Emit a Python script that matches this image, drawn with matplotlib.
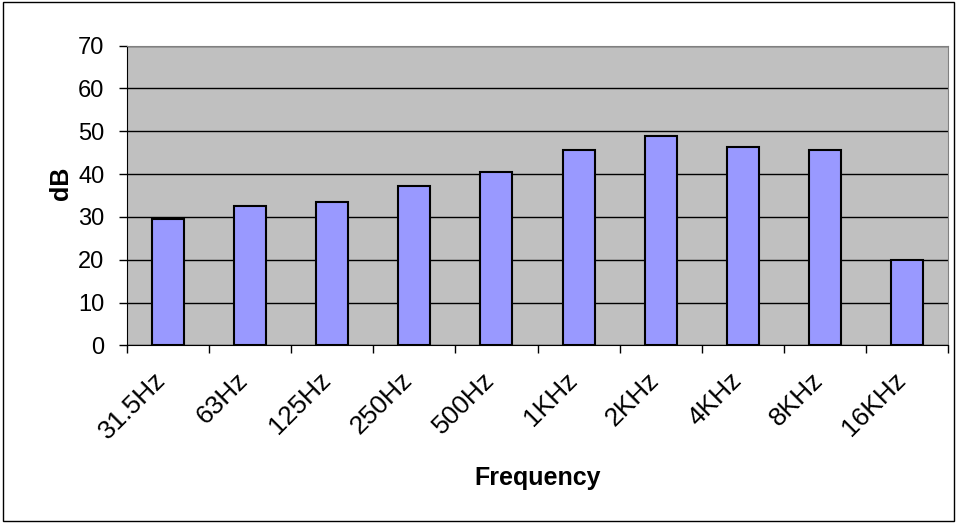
import matplotlib

matplotlib.use("Agg")
import matplotlib.pyplot as plt  # noqa: E402
import numpy as np  # noqa: E402
from matplotlib.patches import Rectangle  # noqa: E402
from matplotlib.transforms import ScaledTranslation  # noqa: E402

# Octave-band levels
bands = ["31.5Hz", "63Hz", "125Hz", "250Hz", "500Hz",
         "1KHz", "2KHz", "4KHz", "8KHz", "16KHz"]
levels_db = [29.4, 32.6, 33.5, 37.3, 40.5, 45.7, 48.9, 46.2, 45.7, 20.0]
y_ticks = [0, 10, 20, 30, 40, 50, 60, 70]

plt.rcParams["font.family"] = ["Liberation Sans", "DejaVu Sans"]

fig = plt.figure(figsize=(9.57, 5.23), dpi=100)
ax = fig.add_axes([0.1324, 0.3394, 0.8586, 0.5736])

x = np.arange(len(bands))
ax.set_facecolor("#c0c0c0")
ax.set_axisbelow(True)
ax.yaxis.grid(True, color="black", lw=1.0)
ax.bar(x, levels_db, width=0.39, color="#9999ff", edgecolor="black", lw=1.5, zorder=3)

ax.set_xlim(-0.5, len(bands) - 0.5)
ax.set_ylim(0, 70)
ax.set_yticks(y_ticks)

# labels centred on bars, tick marks on category boundaries
ax.set_xticks(x)
ax.set_xticklabels(bands, rotation=45, ha="right", rotation_mode="anchor")
ax.tick_params(axis="x", which="major", length=0, pad=16, labelsize=19)
shift = ScaledTranslation(-0.14, 0, fig.dpi_scale_trans)
for lbl in ax.get_xticklabels():
    lbl.set_transform(lbl.get_transform() + shift)
ax.set_xticks(np.arange(len(bands) + 1) - 0.5, minor=True)
ax.tick_params(axis="x", which="minor", length=6, width=1, direction="out", color="black")
ax.tick_params(axis="y", length=6, width=1, pad=10, labelsize=17, color="black")

for side in ("top", "right"):
    ax.spines[side].set_color("#808080")
for side in ("left", "bottom"):
    ax.spines[side].set_color("black")

ax.set_ylabel("dB", fontsize=18, fontweight="bold", va="center", ha="center")
ax.yaxis.set_label_coords(-0.08, 0.54)
ax.set_xlabel("Frequency", fontsize=18, fontweight="bold", va="center", ha="center")
ax.xaxis.set_label_coords(0.5, -0.442)

fig.patches.append(Rectangle((0.003, 0.003), 0.994, 0.994, transform=fig.transFigure,
                             fill=False, edgecolor="black", lw=1))

fig.savefig("out.png", dpi=100)
